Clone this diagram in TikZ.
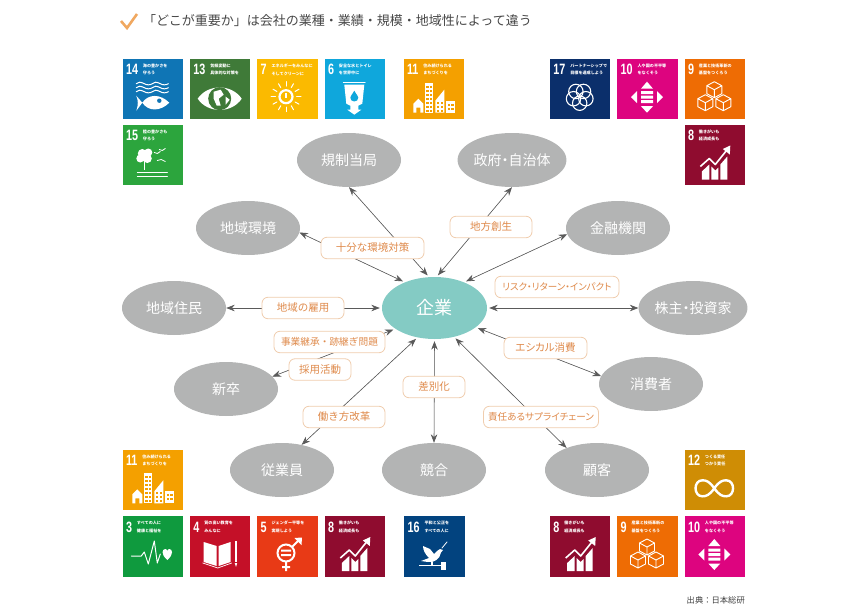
\documentclass[tikz,border=0pt]{standalone}
\usepackage{fontspec}
\usetikzlibrary{shapes.geometric,arrows.meta,positioning}
\newfontfamily\jpfont{Noto Sans CJK JP}
\newfontfamily\jppalt[RawFeature={+palt}]{Noto Sans CJK JP}
\newfontfamily\numfont{Liberation Sans}

\definecolor{sdg3}{HTML}{0F9A3E} \definecolor{sdg4}{HTML}{C41028} \definecolor{sdg5}{HTML}{E83A16}
\definecolor{sdg6}{HTML}{0FA7DC} \definecolor{sdg7}{HTML}{FBBA00} \definecolor{sdg8}{HTML}{8F0C2F}
\definecolor{sdg9}{HTML}{EE6C04} \definecolor{sdg10}{HTML}{DD047F} \definecolor{sdg11}{HTML}{F4A000}
\definecolor{sdg12}{HTML}{CF8D05} \definecolor{sdg13}{HTML}{3F7A38} \definecolor{sdg14}{HTML}{0F75B5}
\definecolor{sdg15}{HTML}{2CA53D} \definecolor{sdg16}{HTML}{02437F} \definecolor{sdg17}{HTML}{0B2F6B}
\definecolor{partyfill}{HTML}{B3B4B4} \definecolor{firmfill}{HTML}{84CBC4} \definecolor{linkgray}{HTML}{5A5A5A}
\definecolor{issueline}{HTML}{F0CDAE} \definecolor{issuetext}{HTML}{DF8A4B} \definecolor{tick}{HTML}{F0A860}

\tikzset{
  party/.style = {shape = ellipse, fill = partyfill, text = white, inner sep = 0pt, minimum width = 104pt, minimum height = 54pt, font = \jppalt\fontsize{14}{14}\selectfont},
  firm/.style = {shape = ellipse, fill = firmfill, text = white, inner sep = 0pt, minimum width = 105pt, minimum height = 62pt, font = \jpfont\fontsize{18}{18}\selectfont},
  issue/.style = {shape = rectangle, rounded corners = 6pt, draw = issueline, line width = 0.8pt, fill = white, text = issuetext, inner sep = 0pt, minimum height = 21.5pt, font = \jpfont\fontsize{10.5}{10.5}\selectfont},
  link/.style = {{Stealth[length=8.5pt,width=6.5pt]}-{Stealth[length=8.5pt,width=6.5pt]}, draw = linkgray, fill = linkgray, line width = 0.6pt, shorten > = 2pt},
  tilebox/.style = {shape = rectangle, anchor = north west, inner sep = 0pt, minimum size = 60.5pt},
  tilenum/.style = {anchor = west, inner sep = 0pt, text = white, font = \numfont\bfseries\fontsize{15}{15}\selectfont},
  tiletext/.style = {anchor = west, inner sep = 0pt, text = white, align = left, font = \jpfont\bfseries\fontsize{4.1}{7.4}\selectfont},
  glyph/.style = {draw = white, line width = 1pt, line cap = round, line join = round}
}

% one goal tile: name, x, y, colour, number, two text lines, glyph
\newcommand{\sdgtile}[8]{
  \begin{scope}[shift={(#2,#3)}]
    \node[tilebox, fill = #4] (#1) at (0,0) {};
    \node[tilenum] (#1n) at (3.5,11) {\scalebox{.72}[1]{#5}};
    \node[tiletext, right = 4.5pt of #1n] (#1t) {#6\\#7};
    #8
  \end{scope}
}

% glyphs, drawn in the tile's own 60 x 60 frame
\newcommand{\fishglyph}{
  \foreach \w in {25,29,33} \draw[glyph] (14,\w) .. controls (16,\w-2) and (18,\w-2) .. (22,\w) .. controls (24,\w+1.5) and (28,\w+1.5) .. (30,\w) .. controls (32,\w-2) and (34,\w-2) .. (38,\w) .. controls (40,\w+1.5) and (44,\w+1.5) .. (46,\w);
  \fill[white] (20,44) .. controls (26,35) and (38,35) .. (47,44) .. controls (38,53) and (26,53) .. (20,44) -- (14,52) .. controls (16,47) and (16,41) .. (14,37) -- cycle;
  \fill[sdg14] (37,42) circle (2.2);
}
\newcommand{\eyeglyph}{
  \fill[white] (8,40) .. controls (18,25) and (42,25) .. (52,40) .. controls (42,55) and (18,55) .. (8,40) -- cycle;
  \fill[sdg13] (30,40) circle (11.5);
  \fill[white] (24,33) -- (31,31) -- (34,36) -- (29,40) -- (31,47) -- (27,47) -- (24,40) -- cycle;
  \fill[white] (36,38) -- (40,41) -- (36,46) -- cycle;
}
\newcommand{\sunglyph}{
  \begin{scope}[shift={(29,38)}]
    \foreach \a in {0,30,...,330} \draw[glyph] (\a:10.5) -- (\a:15);
    \draw[white, line width = 2.2pt] (0,0) circle (6.5);
    \draw[white, line width = 1.2pt] (0,-3.5) -- (0,1);
  \end{scope}
}
\newcommand{\dropglyph}{
  \draw[glyph, line width = 0.7pt] (19,24) -- (41,24);
  \fill[white] (20,26) -- (40,26) -- (38,45) -- (34,47) -- (34,51) -- (37,51) -- (30,56) -- (23,51) -- (26,51) -- (26,47) -- (22,45) -- cycle;
  \fill[sdg6] (30,32) .. controls (32,36) and (34,37) .. (34,39) .. controls (34,44) and (26,44) .. (26,39) .. controls (26,37) and (28,36) .. (30,32) -- cycle;
}
\newcommand{\townglyph}[1]{
  \fill[white] (10,45) -- (15,40) -- (20,45) -- (20,54) -- (17,54) -- (17,49) -- (13,49) -- (13,54) -- (10,54) -- cycle;
  \fill[white] (21.5,24) rectangle (30,54);
  \foreach \u in {27,31,...,51} { \fill[#1] (23,\u) rectangle (25.3,\u+2); \fill[#1] (26.5,\u) rectangle (28.8,\u+2); }
  \fill[white] (32,42) -- (41,31) -- (41,54) -- (32,54) -- cycle;
  \foreach \u in {43,47,51} { \fill[#1] (34,\u) rectangle (36,\u+2); \fill[#1] (37.5,\u) rectangle (39.5,\u+2); }
  \fill[white] (43,42) rectangle (52,54);
  \foreach \u in {45,49} { \fill[#1] (44.5,\u) rectangle (47,\u+2); \fill[#1] (48,\u) rectangle (50.5,\u+2); }
}
\newcommand{\treeglyph}{
  \fill[white] (20,29) circle (4.5) (26,28) circle (4) (18,34) circle (4) (25,34) circle (4.5);
  \fill[white] (21.5,36) rectangle (23,45);
  \draw[glyph, line width = 0.8pt] (32,28) -- (35,29) -- (38,27) (37,25) -- (40,26) -- (43,24) (35,36) -- (39,35) -- (43,37);
  \draw[glyph] (15,48) -- (45,48) (15,51.5) -- (45,51.5);
}
\newcommand{\ringsglyph}{
  \begin{scope}[shift={(30,38)}]
    \foreach \a in {18,90,162,234,306} \draw[white, line width = 1.1pt] (\a:6.5) circle (7.2);
  \end{scope}
}
\newcommand{\equalglyph}{
  \fill[white] (30,23) -- (36,30) -- (24,30) -- cycle;
  \fill[white] (30,54) -- (36,47.5) -- (24,47.5) -- cycle;
  \fill[white] (14,38.5) -- (20,32.5) -- (20,44.5) -- cycle;
  \fill[white] (46,38.5) -- (40,32.5) -- (40,44.5) -- cycle;
  \fill[white] (24,32.5) rectangle (36,35.5) (24,37) rectangle (36,40) (24,41.5) rectangle (36,44.5);
}
\newcommand{\cubeglyph}{
  \foreach \p/\q in {30/31,21/44,39/44} {
    \begin{scope}[shift={(\p,\q)}]
      \draw[glyph, line width = 0.9pt] (0,-8) -- (7.5,-4) -- (7.5,4) -- (0,8) -- (-7.5,4) -- (-7.5,-4) -- cycle (0,0) -- (-7.5,-4) (0,0) -- (7.5,-4) (0,0) -- (0,8);
    \end{scope}
  }
}
\newcommand{\growthglyph}{
  \fill[white] (17.5,47) -- (25,40) -- (25,55) -- (17.5,55) -- cycle;
  \fill[white] (27,42) -- (31,46) -- (34,43) -- (34,55) -- (27,55) -- cycle;
  \fill[white] (36,40) -- (43,32) -- (43,55) -- (36,55) -- cycle;
  \draw[glyph, line width = 1.6pt, line cap = butt] (16,42) -- (25,34) -- (31,40) -- (43,25);
  \fill[white] (46,21) -- (45.5,30) -- (38.5,24.5) -- cycle;
}
\newcommand{\healthglyph}{
  \draw[glyph] (9,40) -- (19,40) -- (22,36) -- (26,48) -- (32,25) -- (35,47) -- (38,38);
  \fill[white] (45,44) .. controls (38,38) and (40,33) .. (43,33) .. controls (44,33) and (45,34) .. (45,35) .. controls (45,34) and (46,33) .. (47,33) .. controls (50,33) and (52,38) .. (45,44) -- cycle;
}
\newcommand{\bookglyph}{
  \fill[white] (14,26) -- (27,30) -- (27,50) -- (14,46) -- cycle (29,30) -- (41,26) -- (41,46) -- (29,50) -- cycle;
  \draw[glyph, line width = 0.7pt] (13,47) -- (28,52) -- (42,47);
  \fill[white] (45,25) rectangle (47.5,46);
  \fill[white] (45,47) -- (47.5,47) -- (46.3,51) -- cycle;
}
\newcommand{\genderglyph}{
  \draw[white, line width = 2pt] (29,37) circle (8.5);
  \draw[white, line width = 2pt] (29,46) -- (29,55) (25,51) -- (33,51) (35,31) -- (43,23);
  \fill[white] (45,21.5) -- (44.5,29) -- (37.5,22) -- cycle;
  \fill[white] (24,33.5) rectangle (34,35.5) (24,38) rectangle (34,40);
}
\newcommand{\doveglyph}{
  \fill[white] (19,30) -- (26,33) -- (30,38) -- (33,35) -- (36,33) -- (39,34) -- (37,36.5) .. controls (36,43) and (30,47) .. (24,46) -- (17,45) -- (25,42) .. controls (21,38) and (19,34) .. (19,30) -- cycle;
  \draw[glyph, line width = 0.8pt] (38,32) -- (43,26);
  \draw[glyph, line width = 1.2pt, line cap = butt] (15,49.5) -- (37,49.5) (28,46) -- (28,49);
  \fill[white] (37,45.5) rectangle (42,53.5);
}
\newcommand{\loopglyph}{
  \draw[white, line width = 2.4pt] (30,39) .. controls (25,32) and (22,31) .. (18,31) .. controls (9,31) and (9,47) .. (18,47) .. controls (22,47) and (25,46) .. (30,39) .. controls (35,32) and (38,31) .. (42,31) .. controls (51,31) and (51,47) .. (42,47) .. controls (38,47) and (35,46) .. (30,39) -- cycle;
}

\begin{document}
\begin{tikzpicture}[x=1pt,y=-1pt]
\useasboundingbox (0,0) rectangle (865,610);

\coordinate (tickA) at (121,21); \coordinate (tickB) at (127,28); \coordinate (tickC) at (137,14);
\draw[tick, line width = 2.6pt] (tickA) -- (tickB) -- (tickC);
\node[anchor = west, inner sep = 0pt, text = black!72, font = \jpfont\fontsize{13}{13}\selectfont] (title) at (143,21) {「どこが重要か」は会社の業種・業績・規模・地域性によって違う};

% top tiles
\sdgtile{tA}{122.3}{58.7}{sdg14}{14}{海の豊かさを}{守ろう}{\fishglyph}
\sdgtile{tB}{189.7}{58.7}{sdg13}{13}{気候変動に}{具体的な対策を}{\eyeglyph}
\sdgtile{tC}{257}{58.7}{sdg7}{7}{エネルギーをみんなに}{そしてクリーンに}{\sunglyph}
\sdgtile{tD}{324.3}{58.7}{sdg6}{6}{安全な水とトイレ}{を世界中に}{\dropglyph}
\sdgtile{tE}{403.3}{58.7}{sdg11}{11}{住み続けられる}{まちづくりを}{\townglyph{sdg11}}
\sdgtile{tF}{122.3}{124.5}{sdg15}{15}{陸の豊かさも}{守ろう}{\treeglyph}
\sdgtile{tG}{549.7}{58.7}{sdg17}{17}{パートナーシップで}{目標を達成しよう}{\ringsglyph}
\sdgtile{tH}{617}{58.7}{sdg10}{10}{人や国の不平等}{をなくそう}{\equalglyph}
\sdgtile{tI}{684.3}{58.7}{sdg9}{9}{産業と技術革新の}{基盤をつくろう}{\cubeglyph}
\sdgtile{tJ}{684.3}{124.5}{sdg8}{8}{働きがいも}{経済成長も}{\growthglyph}
% bottom tiles
\sdgtile{bA}{122.3}{449.3}{sdg11}{11}{住み続けられる}{まちづくりを}{\townglyph{sdg11}}
\sdgtile{bB}{122.3}{516}{sdg3}{3}{すべての人に}{健康と福祉を}{\healthglyph}
\sdgtile{bC}{189.7}{516}{sdg4}{4}{質の高い教育を}{みんなに}{\bookglyph}
\sdgtile{bD}{257}{516}{sdg5}{5}{ジェンダー平等を}{実現しよう}{\genderglyph}
\sdgtile{bE}{324.3}{516}{sdg8}{8}{働きがいも}{経済成長も}{\growthglyph}
\sdgtile{bF}{404}{516}{sdg16}{16}{平和と公正を}{すべての人に}{\doveglyph}
\sdgtile{bG}{549.7}{516}{sdg8}{8}{働きがいも}{経済成長も}{\growthglyph}
\sdgtile{bH}{617}{516}{sdg9}{9}{産業と技術革新の}{基盤をつくろう}{\cubeglyph}
\sdgtile{bI}{684.3}{516}{sdg10}{10}{人や国の不平等}{をなくそう}{\equalglyph}
\sdgtile{bJ}{684.3}{449.3}{sdg12}{12}{つくる責任}{つかう責任}{\loopglyph}

\node[firm] (kigyo) at (434.5,308) {企業};
\node[party] (kisei) at (349,160) {規制当局};
\node[party] (seifu) at (512,160) {政府・自治体};
\node[party] (kankyo) at (248,228) {地域環境};
\node[party] (kinyu) at (618,228) {金融機関};
\node[party] (jumin) at (174,308) {地域住民};
\node[party] (kabu) at (693,308) {株主・投資家};
\node[party] (shinsotsu) at (226,389) {新卒};
\node[party] (shohi) at (651,384) {消費者};
\node[party] (jugyo) at (282,470) {従業員};
\node[party] (kyogo) at (434,470) {競合};
\node[party] (kokyaku) at (597,470) {顧客};

\draw[link] (kisei.south) -- (kigyo.100);
\draw[link] (seifu.south) -- (kigyo.86);
\draw[link] (kankyo.-5) -- (kigyo.139);
\draw[link] (kinyu.187) -- (kigyo.41);
\draw[link] (jumin.east) -- (kigyo.west);
\draw[link] (kabu.west) -- (kigyo.east);
\draw[link] (shinsotsu.15) -- (kigyo.208);
\draw[link] (shohi.171) -- (kigyo.-25);
\draw[link] (jugyo.52) -- (kigyo.-120);
\draw[link] (kyogo.north) -- (kigyo.south);
\draw[link] (kokyaku.144) -- (kigyo.-56);

\node[issue, minimum width = 103pt] (taisaku) at (372.5,248) {十分な環境対策};
\node[issue, minimum width = 82pt] (sosei) at (491,227) {地方創生};
\node[issue, minimum width = 124pt, font = \jppalt\fontsize{9.5}{9.5}\selectfont] (impact) at (557,287) {リスク・リターン・インパクト};
\node[issue, minimum width = 82pt] (koyo) at (303,308) {地域の雇用};
\node[issue, minimum width = 111pt, font = \jpfont\fontsize{9.7}{9.7}\selectfont] (keisho) at (329.5,342) {事業継承・跡継ぎ問題};
\node[issue, minimum width = 62pt] (saiyo) at (320,369.5) {採用活動};
\node[issue, minimum width = 83pt, font = \jppalt\fontsize{10.5}{10.5}\selectfont] (ethical) at (545.5,348) {エシカル消費};
\node[issue, minimum width = 62pt] (sabetsu) at (434,387) {差別化};
\node[issue, minimum width = 82pt] (hataraki) at (344,417) {働き方改革};
\node[issue, minimum width = 115pt, font = \jppalt\fontsize{9.6}{9.6}\selectfont] (supply) at (541,417) {責任あるサプライチェーン};

\node[anchor = east, inner sep = 0pt, text = black!75, font = \jpfont\fontsize{8.3}{8.3}\selectfont] (source) at (745,600) {出典：日本総研};
\end{tikzpicture}
\end{document}
